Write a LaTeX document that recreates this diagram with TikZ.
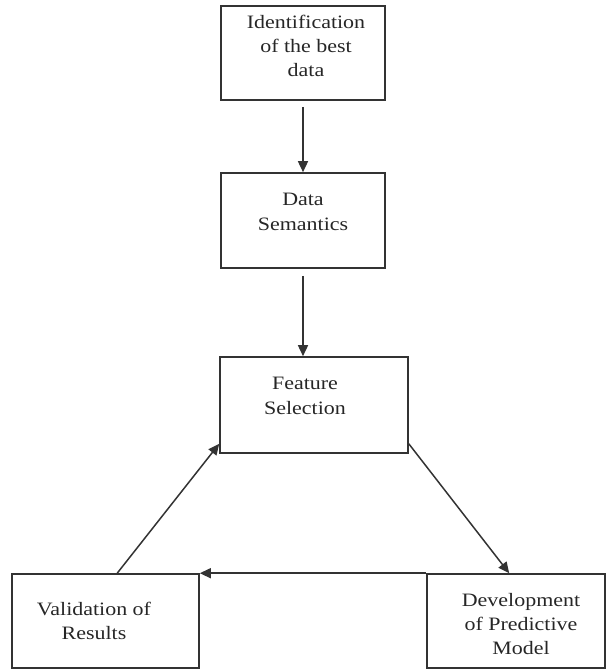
\documentclass[tikz,border=0pt]{standalone}
\usepackage{fontspec}
\setmainfont{Liberation Serif}[FakeStretch=1.16]
\usetikzlibrary{arrows.meta,calc}
\tikzset{
  box/.style={draw=black!80, line width=1.6bp, inner sep=0pt, rectangle},
  txt/.style={align=center, inner sep=0pt, text=black!85,
    font=\fontsize{19}{24.5}\selectfont},
  conn/.style={draw=black!80, line width=1.5bp,
    -{Triangle[length=11bp,width=10bp]}}
}
\begin{document}
\begin{tikzpicture}[x=1bp,y=-1bp]
\useasboundingbox (0,0) rectangle (606,669);
% boxes
\node[box, minimum width=164bp, minimum height=94bp] (b1) at (303,53) {};
\node[box, minimum width=164bp, minimum height=95bp] (b2) at (303,220.5) {};
\node[box, minimum width=188bp, minimum height=96bp] (b3) at (314,405) {};
\node[box, minimum width=187bp, minimum height=94bp] (val) at (105.5,621) {};
\node[box, minimum width=178bp, minimum height=94bp] (dev) at (516,621) {};
% texts
\node[txt] (t1) at (306,46) {Identification\\of the best\\data};
\node[txt] (t2) at (303,212) {Data\\Semantics};
\node[txt] (t3) at (305,396) {Feature\\Selection};
\node[txt] (t4) at (94,621) {Validation of\\Results};
\node[txt] (t5) at (521,624) {Development\\of Predictive\\Model};
% anchor points
\coordinate (b3r) at ($(b3.south east)+(0,-10)$);
\coordinate (b3l) at ($(b3.south west)+(0,-10)$);
\coordinate (devtop) at ($(dev.north west)+(83,0)$);
\coordinate (valtop) at ($(val.north west)+(106,0)$);
% connectors
\draw[conn, shorten <=6bp] (b1.south) -- (b2.north);
\draw[conn, shorten <=7bp] (b2.south) -- (b2.south |- b3.north);
\draw[conn] (b3r) -- (devtop);
\draw[conn] (valtop) -- (b3l);
\draw[conn] (dev.north west) -- (val.north east);
\end{tikzpicture}
\end{document}
